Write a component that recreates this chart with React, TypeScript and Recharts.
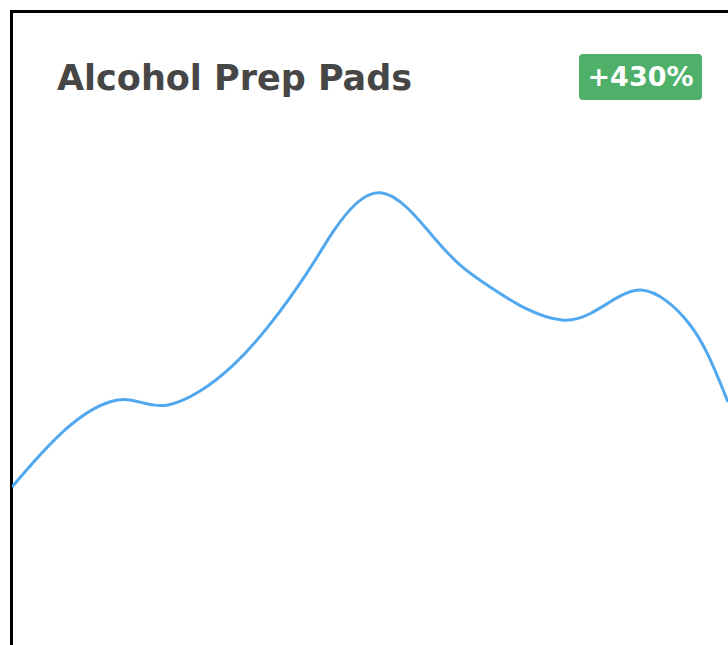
import React from "react";
import { LineChart, Line, XAxis, YAxis } from "recharts";

const days = [0, 55, 103, 128, 153, 188, 221, 255, 298, 321, 345, 368, 395, 421, 448, 478, 511, 553, 578, 605, 628, 655, 678, 695, 716];
const sales = [158, 222, 249, 243, 236, 252, 278, 315, 375, 415, 445, 457, 440, 408, 378, 358, 336, 321, 330, 348, 359, 346, 322, 295, 243];
const title = "Alcohol Prep Pads";
const change = "+430%";

const data = days.map((d, i) => ({ day: d, value: sales[i] }));

export default function App() {
  return (
    <div style={{ position: "fixed", left: 0, top: 0, width: 728, height: 645, overflow: "hidden", background: "#fff" }}>
      <div style={{ position: "absolute", left: 10, top: 10, width: 800, height: 800, borderLeft: "3px solid #000", borderTop: "3px solid #000" }} />
      <div style={{ position: "absolute", left: 12, top: 0 }}>
        <LineChart width={716} height={645} data={data} margin={{ top: 0, right: 0, bottom: 0, left: 0 }}>
          <XAxis type="number" dataKey="day" domain={[0, 716]} hide />
          <YAxis type="number" domain={[0, 645]} hide />
          <Line type="basis" dataKey="value" stroke="#52a8ee" strokeWidth={3} dot={false} isAnimationActive={false} />
        </LineChart>
      </div>
      <div style={{ position: "absolute", left: 57, top: 56, fontFamily: "'DejaVu Sans', sans-serif", fontWeight: 700, fontSize: 35, color: "#464646", lineHeight: "44px", whiteSpace: "nowrap" }}>
        {title}
      </div>
      <div style={{ position: "absolute", left: 579, top: 54, width: 123, height: 46, background: "#4fb06a", borderRadius: 4, color: "#fff", fontFamily: "'DejaVu Sans', sans-serif", fontWeight: 700, fontSize: 27, lineHeight: "46px", textAlign: "center" }}>
        {change}
      </div>
    </div>
  );
}
